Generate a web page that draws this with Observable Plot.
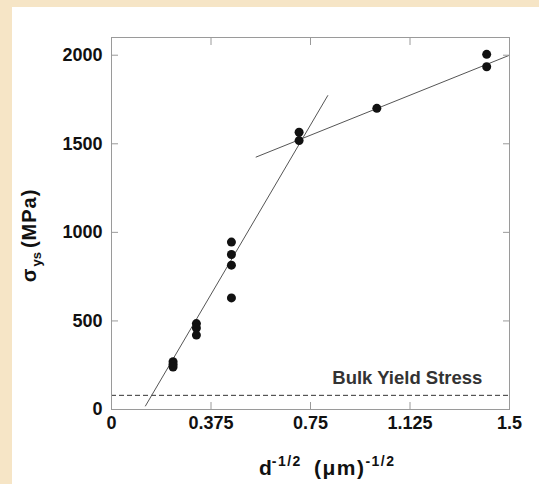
<!DOCTYPE html>
<html><head><meta charset="utf-8">
<script src="https://cdn.jsdelivr.net/npm/d3@7"></script>
<script src="https://cdn.jsdelivr.net/npm/@observablehq/plot@0.6"></script>
<style>
html,body{margin:0;padding:0;background:#f6e5c6;}
#wrap{position:relative;width:539px;height:484px;overflow:hidden;}
#panel{position:absolute;left:12px;top:7px;right:0;bottom:0;background:#fff;}
#chart{position:absolute;left:0;top:0;}
</style></head><body>
<div id="wrap"><div id="panel"></div><div id="chart"></div></div>
<script>
// measured points: d^-1/2 (um^-1/2) vs yield stress (MPa)
const grainX  = [0.232, 0.232, 0.232, 0.32, 0.32, 0.32, 0.452, 0.452, 0.452, 0.452, 0.707, 0.707, 1.0, 1.414, 1.414];
const stressY = [270, 255, 240, 485, 460, 420, 945, 875, 815, 630, 1565, 1518, 1700, 2005, 1935];
// fitted lines
const steepFitX = [0.128, 0.815];
const steepFitY = [20, 1772];
const shallowFitX = [0.545, 1.5];
const shallowFitY = [1425, 2000];
// bulk yield stress level
const bulkYield = [80];
const annotation = ["Bulk Yield Stress"];
// ticks
const xTicks = [0, 0.375, 0.75, 1.125, 1.5];
const xTickLabels = ["0", "0.375", "0.75", "1.125", "1.5"];
const yTicks = [0, 500, 1000, 1500, 2000];
const yTickLabels = ["0", "500", "1000", "1500", "2000"];

const points = grainX.map((x, i) => ({x, y: stressY[i]}));
const steep = steepFitX.map((x, i) => ({x, y: steepFitY[i]}));
const shallow = shallowFitX.map((x, i) => ({x, y: shallowFitY[i]}));

const axisGray = "#9a9a9a";
const font = "'Liberation Sans', Arial, Helvetica, sans-serif";

const plot = Plot.plot({
  width: 539, height: 484,
  marginLeft: 111, marginRight: 30, marginTop: 37, marginBottom: 75,
  style: {background: "transparent", fontFamily: font, overflow: "visible", color: "#111"},
  x: {domain: [0, 1.5]},
  y: {domain: [0, 2100]},
  marks: [
    Plot.ruleY(bulkYield, {stroke: "#333", strokeWidth: 1, strokeDasharray: "5,3"}),
    Plot.line(steep, {x: "x", y: "y", stroke: "#555", strokeWidth: 1}),
    Plot.line(shallow, {x: "x", y: "y", stroke: "#555", strokeWidth: 1}),
    Plot.dot(points, {x: "x", y: "y", r: 4.5, fill: "#111", stroke: "none"}),
    Plot.text(annotation, {x: 1.115, y: 177, text: d => d, fontSize: 18.5, fontWeight: "bold", fill: "#333"}),
    Plot.frame({stroke: axisGray}),
    Plot.axisX({anchor: "bottom", ticks: xTicks, tickFormat: d => xTickLabels[xTicks.indexOf(d)],
      tickSize: -7, tickPadding: 14, stroke: axisGray, fontSize: 18, fontWeight: "bold", label: null}),
    Plot.axisX({anchor: "top", ticks: xTicks, tickFormat: () => "", tickSize: -7, stroke: axisGray, label: null}),
    Plot.axisY({anchor: "left", ticks: yTicks, tickFormat: d => yTickLabels[yTicks.indexOf(d)],
      tickSize: -7, tickPadding: 16, stroke: axisGray, fontSize: 18, fontWeight: "bold", label: null}),
    Plot.axisY({anchor: "right", ticks: yTicks, tickFormat: () => "", tickSize: -7, stroke: axisGray, label: null})
  ]
});
document.getElementById("chart").appendChild(plot);

const xs = plot.scale("x"), ys = plot.scale("y");
const svg = d3.select(plot);

// x axis label: d^-1/2 (um)^-1/2
const xl = svg.append("text")
  .attr("x", xs.apply(0.815)).attr("y", 475)
  .attr("text-anchor", "middle")
  .attr("font-family", font).attr("font-weight", "bold").attr("fill", "#111")
  .attr("font-size", 21);
xl.append("tspan").text("d");
xl.append("tspan").attr("dy", -9).attr("font-size", 14).attr("letter-spacing", 1.5).text("-1/2");
xl.append("tspan").attr("dy", 9).attr("dx", 12).attr("letter-spacing", 1.5).text("(\u03bcm)");
xl.append("tspan").attr("dy", -9).attr("font-size", 14).attr("letter-spacing", 1.5).text("-1/2");

// y axis label: sigma_ys (MPa)
const yl = svg.append("text")
  .attr("transform", `translate(36,${ys.apply(980)}) rotate(-90)`)
  .attr("text-anchor", "middle")
  .attr("font-family", font).attr("font-weight", "bold").attr("fill", "#111")
  .attr("font-size", 20);
yl.append("tspan").text("\u03c3");
yl.append("tspan").attr("dy", 5).attr("dx", 2).attr("font-size", 13).text("ys");
yl.append("tspan").attr("dy", -5).attr("dx", 4).attr("letter-spacing", 1).text("(MPa)");
</script>
</body></html>
